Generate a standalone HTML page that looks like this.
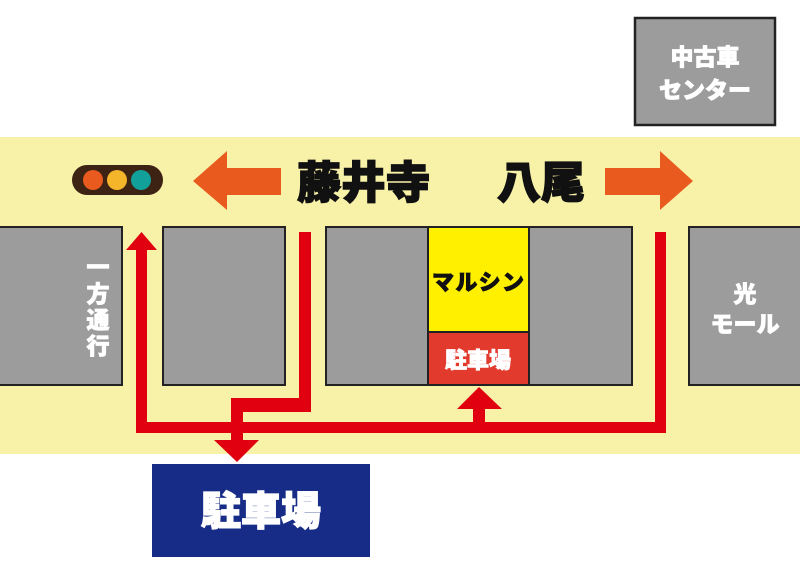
<!DOCTYPE html>
<html><head><meta charset="utf-8"><style>
html,body{margin:0;padding:0;background:#fff;}
svg{display:block;}
text{font-family:"Liberation Sans","Noto Sans CJK JP",sans-serif;font-weight:900;}
</style></head><body>
<svg width="800" height="565" viewBox="0 0 800 565" xmlns="http://www.w3.org/2000/svg">
<rect x="0" y="0" width="800" height="565" fill="#fff"/>
<rect x="0" y="137" width="800" height="317" fill="#f7f2a8"/>
<rect x="635" y="18" width="140" height="107" fill="#9c9c9c" stroke="#222" stroke-width="2.5"/>
<text x="705" y="65" font-size="23" fill="#fff" stroke="#fff" stroke-width="0.8" text-anchor="middle">中古車</text>
<text x="705" y="98" font-size="23" fill="#fff" stroke="#fff" stroke-width="0.8" text-anchor="middle">センター</text>
<rect x="72" y="165" width="91" height="30" rx="15" fill="#3d2314"/>
<circle cx="93" cy="180" r="10" fill="#e85a1e"/>
<circle cx="117" cy="180" r="10" fill="#f5b52a"/>
<circle cx="141" cy="180" r="10" fill="#12a09a"/>
<polygon points="193,181 227,151 227,168 281,168 281,195 227,195 227,210" fill="#e85a1e"/>
<polygon points="693,181 660,151 660,168 605,168 605,195 660,195 660,210" fill="#e85a1e"/>
<text x="297" y="198" font-size="44" fill="#111" stroke="#111" stroke-width="1.5" textLength="133">藤井寺</text>
<text x="497" y="198" font-size="44" fill="#111" stroke="#111" stroke-width="1.5" textLength="88">八尾</text>
<rect x="-2" y="227" width="124" height="158" fill="#9c9c9c" stroke="#222" stroke-width="2"/>
<rect x="163" y="227" width="122" height="158" fill="#9c9c9c" stroke="#222" stroke-width="2"/>
<rect x="326" y="227" width="306" height="158" fill="#9c9c9c" stroke="#222" stroke-width="2"/>
<rect x="428" y="227" width="101" height="105" fill="#fff000" stroke="#222" stroke-width="2"/>
<rect x="428" y="332" width="101" height="53" fill="#e23b2e" stroke="#222" stroke-width="2"/>
<rect x="689" y="227" width="115" height="158" fill="#9c9c9c" stroke="#222" stroke-width="2"/>
<g fill="#fff" stroke="#fff" stroke-width="0.8" font-size="23" text-anchor="middle">
<text x="98" y="275">一</text>
<text x="98" y="302">方</text>
<text x="98" y="328">通</text>
<text x="98" y="354">行</text>
<text x="745" y="302">光</text>
<text x="745" y="332">モール</text>
<text x="478" y="368" font-size="22">駐車場</text>
</g>
<text x="478" y="290" font-size="22" fill="#111" stroke="#111" stroke-width="0.8" text-anchor="middle" textLength="92">マルシン</text>
<g fill="#e0000f">
<rect x="136" y="245" width="11" height="188"/>
<polygon points="141.5,232 126,250 157,250"/>
<rect x="136" y="422" width="530" height="11"/>
<rect x="655" y="232" width="11" height="201"/>
<rect x="299" y="232" width="12" height="180"/>
<rect x="231" y="398" width="80" height="14"/>
<rect x="231" y="398" width="12" height="44"/>
<polygon points="237,462 214,440 259,440"/>
<rect x="473" y="405" width="12" height="20"/>
<polygon points="479,387 457,409 502,409"/>
</g>
<rect x="152" y="464" width="218" height="93" fill="#162c86"/>
<text x="261" y="525" font-size="40" fill="#fff" stroke="#fff" stroke-width="1.2" text-anchor="middle">駐車場</text>
</svg>
</body></html>
